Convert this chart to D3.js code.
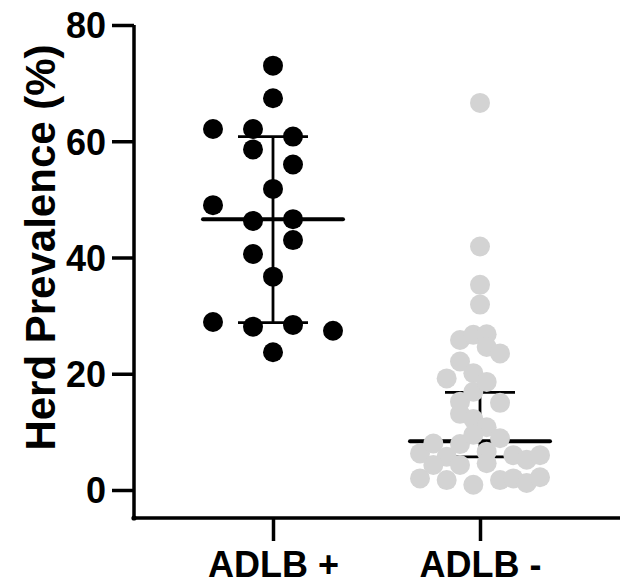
<!DOCTYPE html>
<html><head><meta charset="utf-8">
<script src="https://cdn.jsdelivr.net/npm/d3@7"></script>
<style>
body{margin:0;background:#fff}
svg{display:block}
text{font-family:"Liberation Sans",Arial,Helvetica,sans-serif;font-weight:bold;fill:#000}
</style>
</head><body>
<svg id="chart" width="620" height="585"></svg>
<script>
// ---- data ----
const groups = ["ADLB +", "ADLB -"];
const adlbPositive = [73.0, 67.4, 62.1, 62.1, 60.8, 58.6, 56.0, 51.8, 49.0, 46.3, 46.6,
  40.6, 43.0, 36.7, 28.9, 28.1, 28.4, 27.4, 23.7];
const adlbNegative = [66.6, 41.9, 35.3, 31.9,
  25.8, 26.7, 26.8,
  22.1, 20.1, 24.6, 23.5,
  19.2, 15.2, 16.9, 18.6, 15.0,
  13.1, 12.2, 10.8,
  6.3, 8.0, 5.7, 7.9, 9.5, 6.6, 8.9, 6.0, 5.2, 6.0,
  2.0, 4.3, 1.7, 4.3, 0.9, 4.6, 1.7, 2.0, 1.2, 2.2];
const medians = [46.6, 8.4];
const lowerQuartiles = [28.8, 5.7];
const upperQuartiles = [60.8, 16.8];
const yTicks = [0, 20, 40, 60, 80];
const yTitle = "Herd Prevalence (%)";
const groupColors = ["#000000", "#d3d3d3"];

// ---- layout ----
const svg = d3.select("#chart");
const y = d3.scaleLinear().domain([0, 80]).range([490, 25]);
const x = d3.scalePoint().domain(groups).range([273, 480]);
const axisLeftX = 134, axisBottomY = 518;
const r = 10;

// binned scatter layout (bins of 5 units, symmetric slots)
function binLayout(values, binSize, maxSpan, maxSpacing) {
  const bins = Array.from(d3.group(values.map((v, i) => ({v, i})), d => Math.floor(d.v / binSize)).values());
  const maxCount = d3.max(bins, b => b.length);
  const s = maxCount > 1 ? Math.min(maxSpacing, maxSpan / (maxCount - 1)) : maxSpacing;
  const out = [];
  bins.forEach(b => {
    const n = b.length;
    b.forEach((d, k) => {
      let off = (k - (n - 1) / 2) * s;
      if (n > 1 && n % 2 === 1) off -= s / 2;
      out.push({value: d.v, dx: off});
    });
  });
  return out;
}

const series = [adlbPositive, adlbNegative];

// axes
const yAxis = d3.axisLeft(y).tickValues(yTicks).tickSize(22).tickPadding(6).tickFormat(d3.format("d"));
const gy = svg.append("g").attr("transform", `translate(${axisLeftX},0)`).call(yAxis);
gy.select(".domain").remove();
gy.selectAll(".tick line").attr("stroke", "#000").attr("stroke-width", 3.5);
gy.selectAll(".tick text").attr("font-size", 36).attr("font-family", null).attr("dy", "0.36em");

const xAxis = d3.axisBottom(x).tickSize(23).tickPadding(10);
const gx = svg.append("g").attr("transform", `translate(0,${axisBottomY})`).call(xAxis);
gx.select(".domain").remove();
gx.selectAll(".tick line").attr("stroke", "#000").attr("stroke-width", 3.5);
gx.selectAll(".tick text").attr("font-size", 36).attr("font-family", null);

svg.append("path")
  .attr("d", `M${axisLeftX},${y(80)}V${axisBottomY}H620`)
  .attr("fill", "none").attr("stroke", "#000").attr("stroke-width", 3.5)
  .attr("stroke-linejoin", "round");
svg.append("circle").attr("cx", axisLeftX).attr("cy", axisBottomY).attr("r", 2.6).attr("fill", "#000");

svg.append("text")
  .attr("transform", `translate(55,${(y(80) + y(0)) / 2 - 10}) rotate(-90)`)
  .attr("text-anchor", "middle")
  .attr("font-size", 42)
  .text(yTitle);

// error bars (median with interquartile range)
groups.forEach((g, i) => {
  const cx = x(g);
  const eb = svg.append("g").attr("stroke", "#000").attr("fill", "none");
  eb.append("line").attr("x1", cx).attr("x2", cx)
    .attr("y1", y(upperQuartiles[i])).attr("y2", y(lowerQuartiles[i])).attr("stroke-width", 2.8);
  [upperQuartiles[i], lowerQuartiles[i]].forEach(q => {
    eb.append("line").attr("x1", cx - 35).attr("x2", cx + 35)
      .attr("y1", y(q)).attr("y2", y(q)).attr("stroke-width", 2.8);
  });
  eb.append("line").attr("x1", cx - 70).attr("x2", cx + 70)
    .attr("y1", y(medians[i])).attr("y2", y(medians[i])).attr("stroke-width", 4).attr("stroke-linecap", "round");
});

// points
series.forEach((vals, i) => {
  const pts = binLayout(vals, 5, 120, 40);
  svg.append("g").selectAll("circle").data(pts).join("circle")
    .attr("cx", d => x(groups[i]) + d.dx)
    .attr("cy", d => y(d.value))
    .attr("r", r)
    .attr("fill", groupColors[i]);
});
</script>
</body></html>
